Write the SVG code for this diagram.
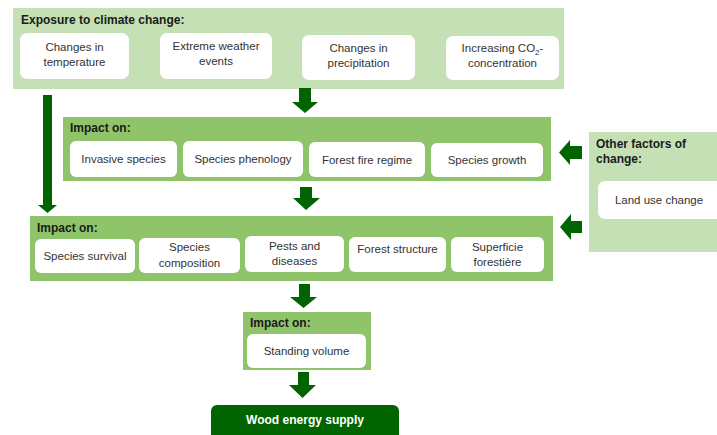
<svg xmlns="http://www.w3.org/2000/svg" width="717" height="435" viewBox="0 0 717 435">
<style>
.lp{fill:#c5e0b4}
.mp{fill:#8fc46b}
.wb{fill:#fff}
.t{font-family:"Liberation Sans",Arial,sans-serif;font-size:11.5px;fill:#333;text-anchor:middle}
.h{font-family:"Liberation Sans",Arial,sans-serif;font-size:12px;font-weight:bold;fill:#1a1a1a}
.ar{fill:#006400}
</style>
<rect width="717" height="435" fill="#fff"/>
<g id="exposure">
<rect class="lp" x="13" y="8" width="551" height="81"/>
<text class="h" x="21" y="24">Exposure to climate change:</text>
</g>
<g id="temperature"><rect class="wb" x="20" y="33" width="109" height="46" rx="7"/><text class="t" x="74.5" y="51">Changes in</text><text class="t" x="74.5" y="66">temperature</text></g>
<g id="extreme"><rect class="wb" x="160" y="33" width="112" height="46" rx="7"/><text class="t" x="216" y="50">Extreme weather</text><text class="t" x="216" y="65">events</text></g>
<g id="precipitation"><rect class="wb" x="302" y="35" width="113" height="45" rx="7"/><text class="t" x="358.5" y="52">Changes in</text><text class="t" x="358.5" y="67">precipitation</text></g>
<g id="co2"><rect class="wb" x="446" y="36" width="113" height="44" rx="7"/><text class="t" x="502.5" y="52">Increasing CO<tspan font-size="8" dy="3">2</tspan><tspan dy="-3">-</tspan></text><text class="t" x="502.5" y="67">concentration</text></g>

<g id="impact1">
<rect class="mp" x="63" y="117" width="488" height="64"/>
<text class="h" x="70" y="132">Impact on:</text>
</g>
<g id="invasive"><rect class="wb" x="70" y="141" width="107" height="36" rx="6"/><text class="t" x="123.5" y="163">Invasive species</text></g>
<g id="phenology"><rect class="wb" x="183" y="141" width="120" height="36" rx="6"/><text class="t" x="243" y="163">Species phenology</text></g>
<g id="fire"><rect class="wb" x="309" y="142" width="116" height="35" rx="6"/><text class="t" x="367" y="164">Forest fire regime</text></g>
<g id="growth"><rect class="wb" x="431" y="143" width="112" height="34" rx="6"/><text class="t" x="487" y="164">Species growth</text></g>

<g id="other">
<rect class="lp" x="589" y="132" width="128" height="120"/>
<text class="h" x="596" y="148">Other factors of</text>
<text class="h" x="596" y="163">change:</text>
</g>
<g id="landuse"><rect class="wb" x="598" y="181" width="130" height="38" rx="7"/><text class="t" x="659" y="204">Land use change</text></g>

<g id="impact2">
<rect class="mp" x="30" y="216" width="523" height="65"/>
<text class="h" x="37" y="232">Impact on:</text>
</g>
<g id="survival"><rect class="wb" x="35" y="239" width="100" height="34" rx="6"/><text class="t" x="85" y="260">Species survival</text></g>
<g id="composition"><rect class="wb" x="139" y="238" width="101" height="35" rx="6"/><text class="t" x="189.5" y="251">Species</text><text class="t" x="189.5" y="267">composition</text></g>
<g id="pests"><rect class="wb" x="245" y="236" width="99" height="36" rx="6"/><text class="t" x="294.5" y="250">Pests and</text><text class="t" x="294.5" y="265">diseases</text></g>
<g id="structure"><rect class="wb" x="349" y="237" width="97" height="35" rx="6"/><text class="t" x="397.5" y="253">Forest structure</text></g>
<g id="superficie"><rect class="wb" x="451" y="237" width="93" height="35" rx="6"/><text class="t" x="497.5" y="251">Superficie</text><text class="t" x="497.5" y="266">forestière</text></g>

<g id="impact3">
<rect class="mp" x="243" y="312" width="128" height="58"/>
<text class="h" x="250" y="327">Impact on:</text>
</g>
<g id="volume"><rect class="wb" x="247" y="334" width="119" height="34" rx="6"/><text class="t" x="306.5" y="355">Standing volume</text></g>

<g id="wood">
<rect x="211" y="405" width="188" height="40" rx="6" fill="#006400"/>
<text x="305" y="424" font-family="Liberation Sans,Arial,sans-serif" font-size="12px" font-weight="bold" fill="#fff" text-anchor="middle">Wood energy supply</text>
</g>

<g id="connectors" class="ar">
<polygon points="299,88 311,88 311,102 318,102 305,113 292,102 299,102"/>
<polygon points="300,187 312,187 312,198 320,198 306,210 293,198 300,198"/>
<polygon points="43,95 52,95 52,205 57,205 47.5,213 38,205 43,205"/>
<polygon points="582,146 570,146 570,140 559,152.5 570,165 570,159 582,159"/>
<polygon points="582,221 571,221 571,214 560,227 571,240 571,233 582,233"/>
<polygon points="299,284 310,284 310,297 317,297 303.5,308 290,297 299,297"/>
<polygon points="298,372 309,372 309,385 316,385 302.5,398 289,385 298,385"/>
</g>
</svg>
